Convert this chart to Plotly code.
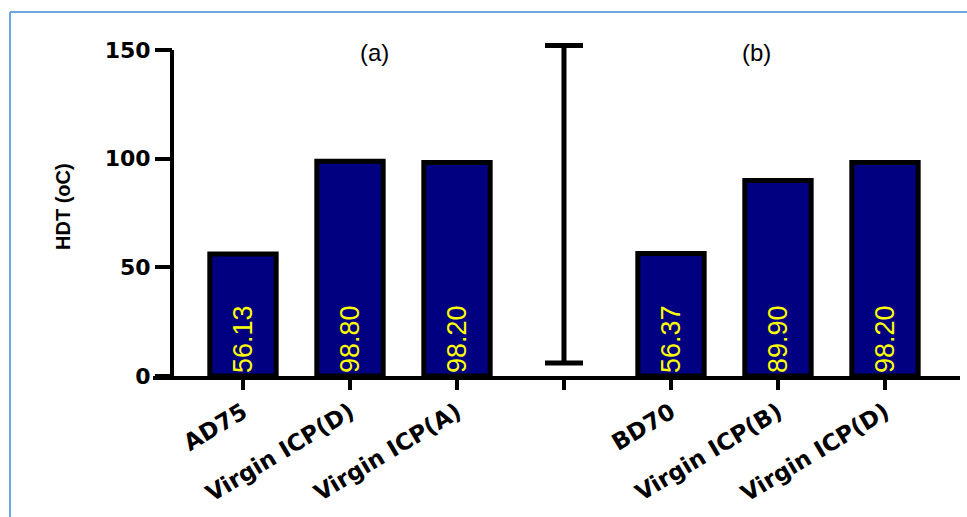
import plotly.graph_objects as go

# HDT of the blends and virgin resins, two panels separated by a spacer column
categories = ["AD75", "Virgin ICP(D)", "Virgin ICP(A)", "", "BD70", "Virgin ICP(B)", "Virgin ICP(D)"]
hdt = [56.13, 98.80, 98.20, None, 56.37, 89.90, 98.20]
panel_labels = ["(a)", "(b)"]
spacer_mean = [79.0]
spacer_sd = [73.0]
y_ticks = [0, 50, 100, 150]

W, H = 967, 517
L, R, T, B = 153, 7, 28, 141
x_range = [-0.841, 6.701]
y_range = [0, 160.1]

positions = list(range(len(categories)))
bar_x = [p for p, v in zip(positions, hdt) if v is not None]
bar_y = [v for v in hdt if v is not None]
bar_text = [f"{v:.2f}" for v in bar_y]
spacer_x = [positions[categories.index("")]]

fig = go.Figure()

fig.add_trace(go.Bar(
    x=bar_x, y=bar_y, width=0.62,
    marker=dict(color="#000080", line=dict(color="black", width=5)),
    text=bar_text, textposition="inside", insidetextanchor="start",
    textangle=-90,
    textfont=dict(family="Liberation Sans Narrow, Liberation Sans, Arial", size=27, color="#FFFF00"),
    showlegend=False, hoverinfo="x+y",
))

fig.add_trace(go.Scatter(
    x=spacer_x, y=spacer_mean, mode="markers",
    marker=dict(size=1, color="rgba(0,0,0,0)"),
    error_y=dict(type="data", array=spacer_sd, symmetric=True,
                 color="black", thickness=5, width=19),
    showlegend=False, hoverinfo="skip",
))

plot_w = W - L - R
plot_h = H - T - B
y_axis_pos = (172 - L) / plot_w

fig.update_layout(
    width=W, height=H,
    margin=dict(l=L, r=R, t=T, b=B),
    paper_bgcolor="white", plot_bgcolor="white",
    xaxis=dict(
        range=x_range, tickmode="array", tickvals=positions, ticktext=categories,
        tickangle=-31, showline=True, linecolor="black", linewidth=4,
        ticks="outside", ticklen=10, tickwidth=4, tickcolor="black",
        showgrid=False, zeroline=False,
        tickfont=dict(family="DejaVu Sans", size=23, color="black", weight="bold"),
    ),
    yaxis=dict(
        range=y_range, tickmode="array", tickvals=y_ticks,
        anchor="free", position=y_axis_pos, showline=False,
        ticks="outside", ticklen=17, tickwidth=4, tickcolor="black",
        showgrid=False, zeroline=False,
        tickfont=dict(family="DejaVu Sans", size=22, color="black", weight="bold"),
    ),
)

# y-axis spine drawn only over the labelled range
fig.add_shape(type="line", xref="paper", yref="y",
              x0=y_axis_pos, x1=y_axis_pos, y0=0, y1=y_ticks[-1],
              line=dict(color="black", width=4))

# frame edges along the top and left of the figure, ending at the page edges
frame_x = (10 - L) / plot_w
frame_y = (H - B - 12) / plot_h
right_edge = (W - L) / plot_w
bottom_edge = -B / plot_h
fig.add_shape(type="line", xref="paper", yref="paper",
              x0=frame_x, x1=right_edge, y0=frame_y, y1=frame_y,
              line=dict(color="#6FA8DC", width=2))
fig.add_shape(type="line", xref="paper", yref="paper",
              x0=frame_x, x1=frame_x, y0=bottom_edge, y1=frame_y,
              line=dict(color="#6FA8DC", width=2))

# panel labels
for lab, xp in zip(panel_labels, [1.23, 4.80]):
    fig.add_annotation(x=xp, y=149, xref="x", yref="y", text=lab, showarrow=False,
                       font=dict(family="Liberation Sans, Arial", size=24, color="black"))

# y-axis title
fig.add_annotation(x=(63 - L) / plot_w, y=(H - B - 207) / plot_h,
                   xref="paper", yref="paper", xanchor="center", yanchor="middle",
                   text="HDT (oC)", textangle=-90, showarrow=False,
                   font=dict(family="Liberation Sans, Arial", size=20, color="black", weight="bold"))

fig.write_html("out.html")
